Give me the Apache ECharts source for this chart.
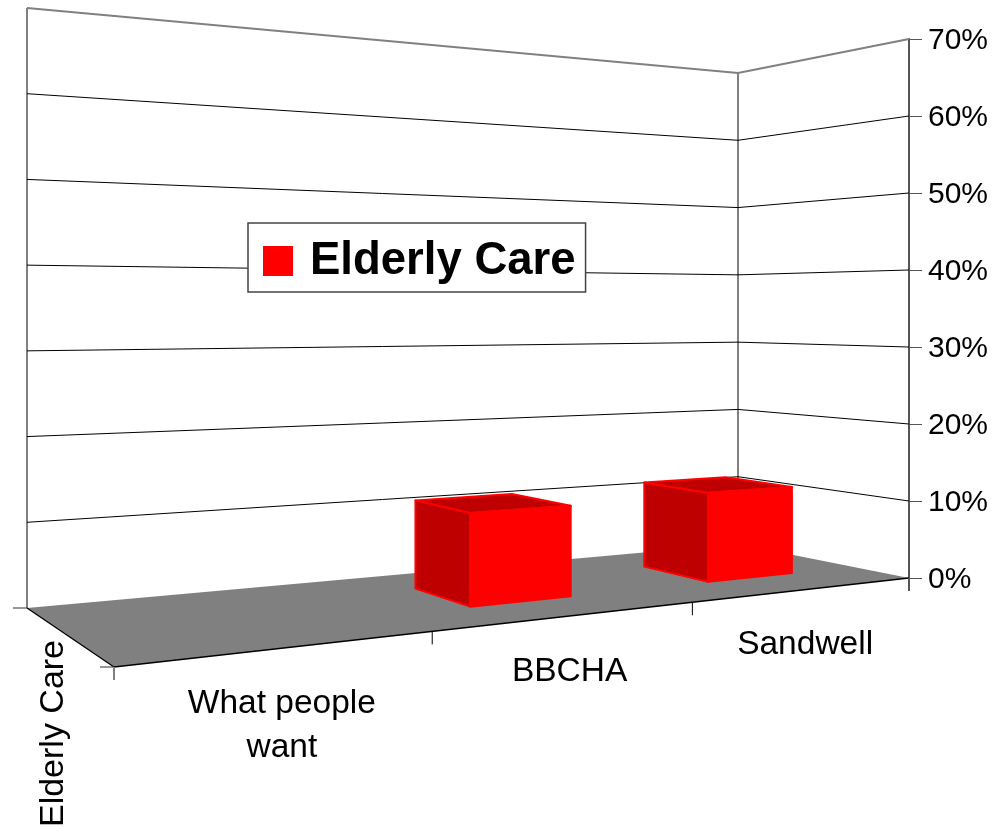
<!DOCTYPE html>
<html>
<head>
<meta charset="utf-8">
<style>html,body{margin:0;padding:0;background:#fff}#c{width:995px;height:828px}</style>
<script src="https://cdn.jsdelivr.net/npm/echarts@6/dist/echarts.min.js"></script>
</head>
<body>
<div id="c"></div>
<script>
const categories = ['What people\nwant', 'BBCHA', 'Sandwell'];
const elderlyCare = [0, 11, 11.4];
const yTicks = [10, 20, 30, 40, 50, 60, 70];
const depthLabels = ['Elderly Care'];
const seriesName = 'Elderly Care';

const FONT = '"Liberation Sans", Arial, sans-serif';

// Perspective of the floor (u along categories, w into depth)
const FL = [114, 667], FR = [909, 578], BR = [738, 544], BL = [27, 608];
const dx1 = FR[0] - BR[0], dx2 = BL[0] - BR[0], sx = FL[0] - FR[0] + BR[0] - BL[0];
const dy1 = FR[1] - BR[1], dy2 = BL[1] - BR[1], sy = FL[1] - FR[1] + BR[1] - BL[1];
const det = dx1 * dy2 - dx2 * dy1;
const g = (sx * dy2 - dx2 * sy) / det, h = (dx1 * sy - sx * dy1) / det;
const a = FR[0] - FL[0] + g * FR[0], b = BL[0] - FL[0] + h * BL[0];
const d = FR[1] - FL[1] + g * FR[1], e = BL[1] - FL[1] + h * BL[1];
// Wall height on screen at the three visible corners
const hFR = 539, hBR = 471, hBL = 600;
const iB = 1 / hBR - 1 / hBL, iC = 1 / hBR - 1 / hFR, iA = 1 / hFR - iB;

function project(u, w, f) {
  const W = g * u + h * w + 1;
  const H = 1 / (iA + iB * u + iC * w);
  return [(a * u + b * w + FL[0]) / W, (d * u + e * w + FL[1]) / W - f * H];
}
function frac(cs, py) { return (cs.y + cs.height - py) / cs.height; }
function uOf(cs, px) { return (px - cs.x) / cs.width; }

function renderFloor(params, api) {
  const c = [project(0,0,0), project(1,0,0), project(1,1,0), project(0,1,0)];
  const tickLeft = 14;
  return { type: 'group', children: [
    { type: 'line', shape: { x1: BL[0], y1: project(0,1,0)[1], x2: BL[0], y2: project(0,1,1)[1] }, style: { stroke: '#808080', lineWidth: 2 } },
    { type: 'line', shape: { x1: BR[0], y1: project(1,1,0)[1], x2: BR[0], y2: project(1,1,1)[1] }, style: { stroke: '#808080', lineWidth: 2 } },
    { type: 'polygon', shape: { points: c }, style: { fill: '#808080' } },
    { type: 'line', shape: { x1: c[3][0], y1: c[3][1], x2: c[0][0], y2: c[0][1] }, style: { stroke: '#000', lineWidth: 1.3 } },
    { type: 'line', shape: { x1: c[0][0], y1: c[0][1], x2: c[1][0], y2: c[1][1] }, style: { stroke: '#000', lineWidth: 1.3 } },
    { type: 'line', shape: { x1: c[3][0] - tickLeft, y1: c[3][1], x2: c[3][0], y2: c[3][1] }, style: { stroke: '#333', lineWidth: 1 } },
    { type: 'line', shape: { x1: c[0][0] - tickLeft, y1: c[0][1], x2: c[0][0], y2: c[0][1] }, style: { stroke: '#333', lineWidth: 1 } },
    { type: 'line', shape: { x1: c[1][0], y1: c[1][1], x2: c[1][0], y2: c[1][1] + 13 }, style: { stroke: '#555', lineWidth: 2 } },
    { type: 'text', x: c[0][0] - 60, y: c[0][1] + 66.5, rotation: Math.PI / 2, style: {
      text: depthLabels[api.value(0)], font: '34px ' + FONT, fill: '#000', align: 'center', verticalAlign: 'middle' } }
  ]};
}

function renderWall(params, api) {
  const f = frac(params.coordSys, api.coord([0, api.value(1)])[1]);
  const top = f >= 0.999;
  const p0 = project(0,1,f), p1 = project(1,1,f), p2 = project(1,0,f);
  return { type: 'polyline', shape: { points: [p0, p1, p2] },
    style: { stroke: top ? '#808080' : '#000', lineWidth: top ? 2 : 1, fill: null } };
}

function renderCategory(params, api) {
  const cs = params.coordSys;
  const i = api.value(0);
  const band = api.size([1, 0])[0];
  const cx = uOf(cs, api.coord([i, 0])[0]);
  const left = cx - band / cs.width / 2 - (i > 0 ? 0.003 : 0);
  const t = project(left, 0, 0);
  const mid = project(cx, 0, 0);
  return { type: 'group', children: [
    { type: 'line', shape: { x1: t[0], y1: t[1], x2: t[0], y2: t[1] + 13 },
      style: { stroke: i === 0 ? '#808080' : '#000', lineWidth: i === 0 ? 2 : 1 } },
    { type: 'text', x: mid[0] - 1.5, y: mid[1] + 33.5, style: {
      text: categories[i], font: '33.5px ' + FONT, lineHeight: 44, fill: '#000', align: 'center', verticalAlign: 'top' } }
  ]};
}

function renderBar(params, api) {
  const cs = params.coordSys;
  const val = api.value(1);
  if (!val) return null;
  const band = api.size([1, 0])[0] / cs.width;
  const cx = uOf(cs, api.coord([api.value(0), 0])[0]) - 0.0025;
  const f = frac(cs, api.coord([api.value(0), val])[1]);
  const u0 = cx - band * 0.2, u1 = cx + band * 0.2, w0 = 0.3, w1 = 0.7;
  const st = (fill) => ({ fill, stroke: '#ff0000', lineWidth: 2, lineJoin: 'round' });
  return { type: 'group', children: [
    { type: 'polygon', shape: { points: [project(u0,w0,0), project(u0,w1,0), project(u0,w1,f), project(u0,w0,f)] }, style: st('#bf0000') },
    { type: 'polygon', shape: { points: [project(u0,w0,f), project(u0,w1,f), project(u1,w1,f), project(u1,w0,f)] }, style: st('#bf0000') },
    { type: 'polygon', shape: { points: [project(u0,w0,0), project(u1,w0,0), project(u1,w0,f), project(u0,w0,f)] }, style: st('#ff0000') }
  ]};
}

const chart = echarts.init(document.getElementById('c'), null, { renderer: 'canvas' });
chart.setOption({
  animation: false,
  backgroundColor: '#fff',
  textStyle: { fontFamily: FONT },
  grid: { left: 114, right: 86, top: 39, bottom: 250, containLabel: false },
  legend: {
    data: [seriesName], left: 248, top: 223, orient: 'horizontal',
    icon: 'rect', itemWidth: 30, itemHeight: 30,
    backgroundColor: '#fff', borderColor: '#444', borderWidth: 1.5, borderRadius: 0,
    padding: [15, 10, 8, 15], selectedMode: false, z: 20,
    textStyle: { fontFamily: FONT, fontSize: 45.5, fontWeight: 'bold', color: '#000', padding: [3, 0, 0, 12] }
  },
  tooltip: { show: false },
  xAxis: { type: 'category', data: categories, show: false },
  yAxis: {
    type: 'value', position: 'right', min: 0, max: 70, interval: 10,
    splitLine: { show: false },
    axisLine: { show: true, lineStyle: { color: '#555', width: 2 } },
    axisTick: { show: true, length: 13, lineStyle: { color: '#555', width: 1 } },
    axisLabel: {
      formatter: '{t|{value}%}', margin: 19,
      rich: { t: { fontSize: 30, fontFamily: FONT, color: '#000', padding: [4, 0, 0, 0] } }
    }
  },
  series: [
    { type: 'custom', name: 'floor', coordinateSystem: 'cartesian2d', data: depthLabels.map((_, i) => [i, 0]), renderItem: renderFloor, clip: false, silent: true, z: 1, encode: { x: 0, y: 1 } },
    { type: 'custom', name: 'walls', coordinateSystem: 'cartesian2d', data: yTicks.map(v => [0, v]), renderItem: renderWall, clip: false, silent: true, z: 2, encode: { x: 0, y: 1 } },
    { type: 'custom', name: 'categories', coordinateSystem: 'cartesian2d', data: categories.map((_, i) => [i, 0]), renderItem: renderCategory, clip: false, silent: true, z: 3, encode: { x: 0, y: 1 } },
    { type: 'custom', name: seriesName, coordinateSystem: 'cartesian2d', data: elderlyCare.map((v, i) => [i, v]), renderItem: renderBar, clip: false, silent: true, z: 4, itemStyle: { color: '#ff0000' }, encode: { x: 0, y: 1 } }
  ]
});
</script>
</body>
</html>
